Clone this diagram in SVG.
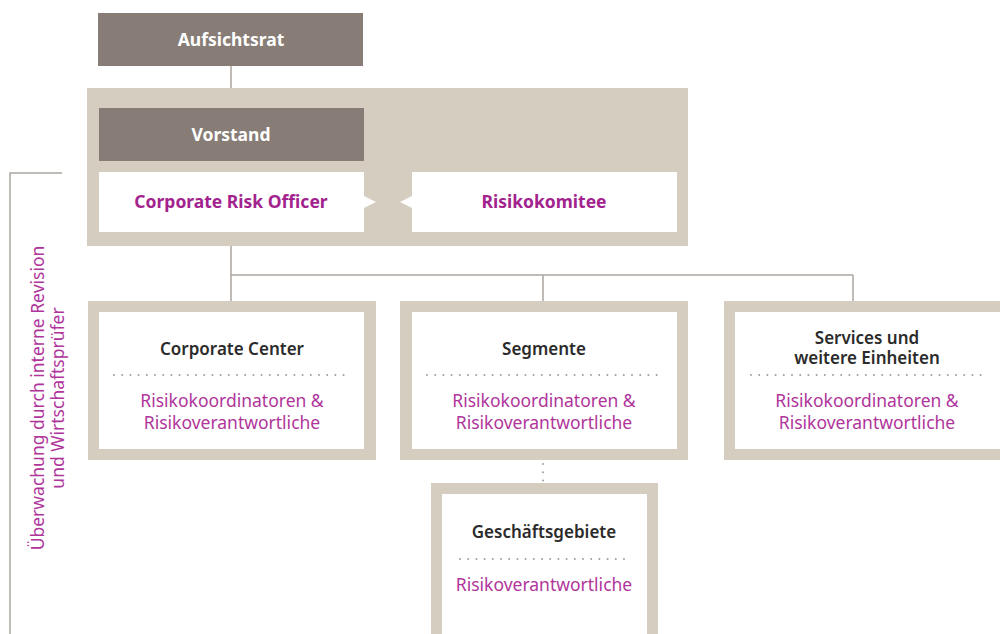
<svg xmlns="http://www.w3.org/2000/svg" width="1000" height="634" viewBox="0 0 1000 634">
<defs>
<style>
.dark{fill:#877d76}
.frame{fill:#d5cdbf}
.white{fill:#ffffff}
.conn{stroke:#aba59f;stroke-width:1.5;fill:none}
.dots{stroke:#a39d97;stroke-width:2;stroke-dasharray:0 8.2;stroke-linecap:round;fill:none}
.t{font-family:"Noto Sans","Open Sans",sans-serif;text-anchor:middle}
.wb{fill:#ffffff;font-size:17.5px;font-weight:bold}
.mb{fill:#a3238e;font-size:17.5px;font-weight:bold}
.hd{fill:#2b2b2b;font-size:17px;font-weight:600}
.mr{fill:#b0359b;font-size:17.5px}
</style>
</defs>
<rect width="1000" height="634" fill="#ffffff"/>
<g id="connectors">
<line class="conn" x1="231" y1="66" x2="231" y2="88"/>
<line class="conn" x1="231" y1="246" x2="231" y2="301"/>
<line class="conn" x1="231" y1="275" x2="853" y2="275"/>
<line class="conn" x1="543" y1="275" x2="543" y2="301"/>
<line class="conn" x1="853" y1="275" x2="853" y2="301"/>
<line class="dots" x1="543" y1="464" x2="543" y2="482"/>
<polyline class="conn" points="62,173 10,173 10,634"/>
</g>
<g id="aufsichtsrat">
<rect class="dark" x="98" y="13" width="265" height="53"/>
<text class="t wb" x="231" y="46">Aufsichtsrat</text>
</g>
<g id="vorstand-frame">
<rect class="frame" x="87" y="88" width="601" height="158"/>
</g>
<g id="vorstand">
<rect class="dark" x="99" y="108" width="265" height="53"/>
<text class="t wb" x="231" y="141">Vorstand</text>
</g>
<g id="cro">
<rect class="white" x="99" y="172" width="265" height="60"/>
<polygon class="white" points="364,196 376,202 364,208"/>
<text class="t mb" x="231" y="208">Corporate Risk Officer</text>
</g>
<g id="risikokomitee">
<rect class="white" x="412" y="172" width="265" height="60"/>
<polygon class="white" points="412,196 400,202 412,208"/>
<text class="t mb" x="544" y="208">Risikokomitee</text>
</g>
<g id="corporate-center">
<rect class="frame" x="88" y="301" width="288" height="159"/>
<rect class="white" x="99" y="312" width="265" height="137"/>
<text class="t hd" x="232" y="355">Corporate Center</text>
<line class="dots" x1="114" y1="375" x2="350" y2="375"/>
<text class="t mr" x="232" y="407">Risikokoordinatoren &amp;</text>
<text class="t mr" x="232" y="429">Risikoverantwortliche</text>
</g>
<g id="segmente">
<rect class="frame" x="400" y="301" width="288" height="159"/>
<rect class="white" x="412" y="312" width="265" height="137"/>
<text class="t hd" x="544" y="355">Segmente</text>
<line class="dots" x1="427" y1="375" x2="663" y2="375"/>
<text class="t mr" x="544" y="407">Risikokoordinatoren &amp;</text>
<text class="t mr" x="544" y="429">Risikoverantwortliche</text>
</g>
<g id="services">
<rect class="frame" x="724" y="301" width="288" height="159"/>
<rect class="white" x="735" y="312" width="265" height="137"/>
<text class="t hd" x="867" y="344"><tspan x="867" y="344">Services und</tspan><tspan x="867" y="364">weitere Einheiten</tspan></text>
<line class="dots" x1="751" y1="375" x2="987" y2="375"/>
<text class="t mr" x="867" y="407">Risikokoordinatoren &amp;</text>
<text class="t mr" x="867" y="429">Risikoverantwortliche</text>
</g>
<g id="geschaeftsgebiete">
<rect class="frame" x="431" y="483" width="227" height="160"/>
<rect class="white" x="442" y="494" width="205" height="150"/>
<text class="t hd" x="544" y="538">Geschäftsgebiete</text>
<line class="dots" x1="460" y1="559" x2="628" y2="559"/>
<text class="t mr" x="544" y="591">Risikoverantwortliche</text>
</g>
<g id="ueberwachung">
<text class="t mr" transform="translate(44,398) rotate(-90)"><tspan x="0" y="0">Überwachung durch interne Revision</tspan><tspan x="0" y="20">und Wirtschaftsprüfer</tspan></text>
</g>
</svg>
